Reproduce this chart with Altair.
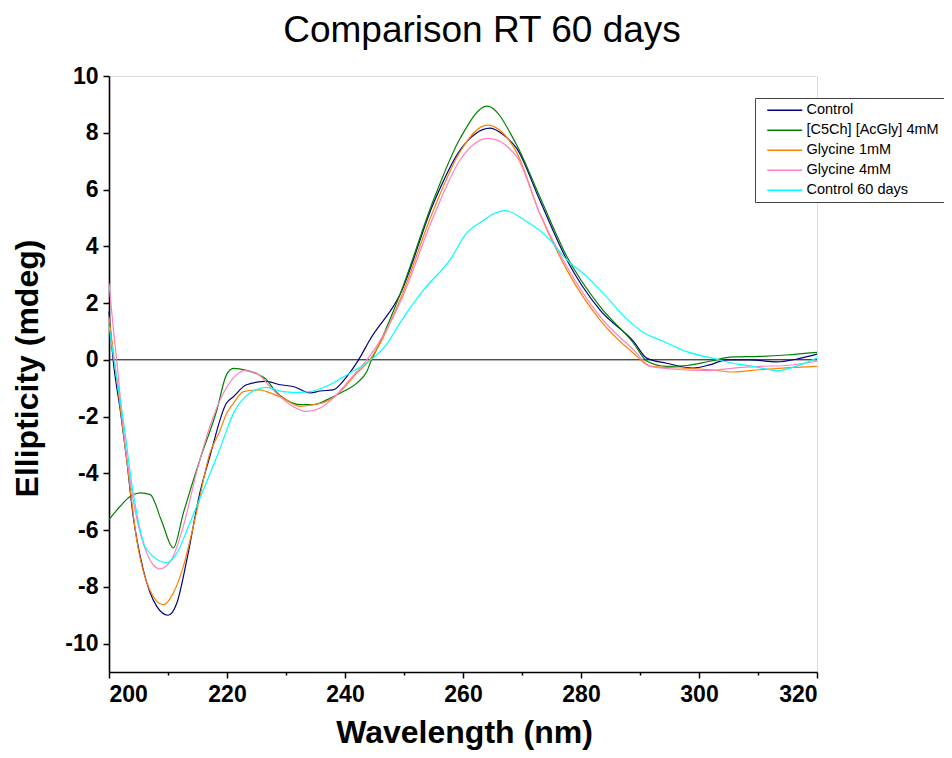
import altair as alt
import pandas as pd

series_names = ["Control", "[C5Ch] [AcGly] 4mM", "Glycine 1mM", "Glycine 4mM", "Control 60 days"]
series_colors = ["#000080", "#008000", "#FF8000", "#FF80C0", "#00FFFF"]

control_wl = [200, 200.7, 201.9, 203, 204.1, 205.8, 208.1, 210, 211.5, 213.2, 215.4, 217.1, 219.9, 221.1,
              223.3, 226.7, 229, 231.2, 234.1, 235.8, 238, 240.3, 242.3, 244.2, 249.3, 255, 259.5, 262,
              264.6, 267, 269.1, 273, 277.6, 283.2, 288.9, 291.2, 294.5, 299, 301.8, 304.7, 308.6, 313.2,
              317.1, 320]
control_val = [1.7, 0, -1.76, -3.52, -5.52, -7.39, -8.69, -9.0, -8.57, -7.04, -4.69, -3.4, -1.53, -1.3,
               -0.88, -0.76, -0.88, -0.94, -1.17, -1.1, -1.06, -0.59, 0, 0.7, 2.29, 5.52, 7.39, 7.95,
               8.16, 7.9, 7.45, 5.63, 3.52, 1.76, 0.65, 0.05, -0.12, -0.29, -0.18, 0.0, 0.0, -0.07,
               0.05, 0.2]

c5ch_wl = [200, 201.9, 203.6, 205.3, 207, 208.9, 210.9, 212.6, 215.4, 218.3, 219.9, 221.1, 223.3, 225.6,
           226.7, 228, 230.1, 232.4, 234.6, 236.9, 239.7, 242, 243.7, 244.5, 245.9, 249.3, 255, 259.5,
           264.1, 269.1, 273, 277.6, 283.2, 288.9, 291.2, 294.5, 297.9, 301.8, 305.8, 310.3, 314.8, 320]
c5ch_val = [-5.63, -5.16, -4.81, -4.69, -4.75, -5.67, -6.63, -5.4, -3.52, -1.76, -0.53, -0.3, -0.37, -0.55,
            -0.7, -1.06, -1.42, -1.58, -1.58, -1.41, -1.12, -0.82, -0.41, 0, 0.59, 2.29, 5.63, 7.8,
            8.94, 7.57, 5.75, 3.64, 1.88, 0.59, -0.05, -0.23, -0.2, -0.05, 0.1, 0.12, 0.17, 0.26]

gly1_wl = [200, 200.9, 203, 204.7, 206.9, 209.2, 210.9, 212.6, 214.8, 217.1, 218.8, 219.9, 221.1, 222.8,
           225.6, 226.7, 229.5, 232.4, 234.6, 236.9, 239.2, 242, 244.2, 246, 249.3, 255, 259.5, 264.1,
           269.1, 273, 277.6, 283.2, 288.9, 291.8, 297.4, 301.8, 305.8, 310.3, 314.2, 320]
gly1_val = [1.5, 0, -3.5, -6.34, -8.1, -8.63, -8.22, -7.28, -5.4, -3.29, -2.5, -1.9, -1.53, -1.12,
            -1.06, -1.12, -1.35, -1.64, -1.58, -1.47, -1.12, -0.47, 0, 0.6, 2.1, 5.28, 7.33, 8.27,
            7.3, 5.16, 3.17, 1.41, 0.23, -0.23, -0.29, -0.35, -0.43, -0.35, -0.29, -0.23]

gly4_wl = [200, 200.7, 201.3, 202.4, 204.1, 206.4, 208.6, 210.6, 212.6, 214.8, 217.1, 219.4, 221.6, 223,
           225, 227.8, 230.7, 233.5, 235.8, 238, 240.8, 243.7, 245.4, 249.3, 255, 259.5, 264.3, 269.1,
           273, 277.6, 283.2, 288.9, 291.8, 297.4, 301.8, 305.8, 310.3, 314.8, 320]
gly4_val = [2.7, 1.17, 0, -2.35, -4.93, -6.81, -7.37, -7.04, -5.87, -3.99, -2.35, -1.17, -0.53, -0.38,
            -0.47, -1.06, -1.58, -1.82, -1.7, -1.35, -0.7, 0, 0.49, 2.0, 5.05, 7.04, 7.8, 7.16,
            5.16, 3.29, 1.53, 0.35, -0.23, -0.35, -0.38, -0.29, -0.23, -0.2, -0.05]

ctrl60_wl = [200, 200.9, 202.4, 204.1, 206.4, 209.8, 211.5, 213.7, 216, 218.5, 221.3, 223.9, 226.7, 229.5,
             232.4, 234.6, 238, 240.8, 243.7, 247, 249.3, 253.3, 257.8, 260.6, 263, 267.1, 270.8, 274.2,
             277.6, 281, 284.4, 287.7, 291.1, 293.4, 297.9, 302.4, 305.8, 309.2, 313.2, 317.1, 320]
ctrl60_val = [1.2, -0.1, -2.1, -4.7, -6.69, -7.15, -6.81, -5.75, -4.58, -3.3, -1.8, -1.17, -0.97, -1.12,
              -1.15, -1.1, -0.82, -0.47, -0.1, 0.53, 1.29, 2.46, 3.52, 4.46, 4.85, 5.26, 4.87, 4.34,
              3.52, 2.93, 2.2, 1.45, 0.9, 0.7, 0.29, 0.05, -0.12, -0.23, -0.38, -0.18, 0.06]

x_ticks = list(range(200, 321, 10))
y_ticks = list(range(-10, 11, 1))

rows = []
for name, wl, val in [
    (series_names[0], control_wl, control_val),
    (series_names[1], c5ch_wl, c5ch_val),
    (series_names[2], gly1_wl, gly1_val),
    (series_names[3], gly4_wl, gly4_val),
    (series_names[4], ctrl60_wl, ctrl60_val),
]:
    for w, v in zip(wl, val):
        rows.append({"series": name, "wl": w, "val": v})
df = pd.DataFrame(rows)

FONT = "Liberation Sans"

x_scale = alt.Scale(domain=[200, 320], nice=False, zero=False)
y_scale = alt.Scale(domain=[-11, 10], nice=False, zero=False)

x_axis = alt.Axis(
    title="Wavelength (nm)", values=x_ticks,
    labelExpr="datum.value % 20 === 0 ? '' + datum.value : ''",
    tickSize={"condition": {"test": "datum.value % 20 === 0", "value": 6}, "value": 3},
    grid=False, domainColor="black", domainWidth=1.6, tickColor="black", tickWidth=1.5,
    labelFont=FONT, labelFontSize=23, labelFontWeight="bold", labelColor="black", labelPadding=5,
    titleFont=FONT, titleFontSize=32, titleFontWeight="bold", titleColor="black",
    titleBaseline="alphabetic", titleY=70, titleX=355,
)
y_axis = alt.Axis(
    title="Ellipticity (mdeg)", values=y_ticks,
    labelExpr="datum.value % 2 === 0 ? '' + datum.value : ''",
    tickSize={"condition": {"test": "datum.value % 2 === 0", "value": 6}, "value": 3},
    grid=False, domainColor="black", domainWidth=1.6, tickColor="black", tickWidth=1.5,
    labelFont=FONT, labelFontSize=23, labelFontWeight="bold", labelColor="black", labelPadding=5,
    titleFont=FONT, titleFontSize=32, titleFontWeight="bold", titleColor="black",
    titleBaseline="alphabetic", titleX=-72, titleY=292, titleAngle=270,
)

lines = alt.Chart(df).mark_line(strokeWidth=1.2, interpolate="monotone").encode(
    x=alt.X("wl:Q", scale=x_scale, axis=x_axis),
    y=alt.Y("val:Q", scale=y_scale, axis=y_axis),
    color=alt.Color(
        "series:N",
        scale=alt.Scale(domain=series_names, range=series_colors),
        legend=alt.Legend(
            title=None, orient="none", legendX=646, legendY=22,
            symbolType="M0,0H10", symbolSize=49, symbolStrokeWidth=1.5,
            labelFont=FONT, labelFontSize=14.5, labelColor="black", labelOffset=32,
            rowPadding=5, padding=5, strokeColor="#444444", fillColor="white",
        ),
    ),
    detail="series:N",
    order=alt.Order("wl:Q"),
)

zero_df = pd.DataFrame({"y": [0]})
zero_line = alt.Chart(zero_df).mark_rule(color="black", strokeWidth=1).encode(
    y=alt.Y("y:Q", scale=y_scale)
)

chart = alt.layer(zero_line, lines).properties(
    width=708, height=596,
    title=alt.TitleParams(
        "Comparison RT 60 days", font=FONT, fontSize=37, fontWeight="normal", color="black",
        anchor="middle", dx=19, offset=15,
    ),
    autosize=alt.AutoSizeParams(type="none"),
    padding={"left": 101, "top": 68, "right": 127, "bottom": 78},
).configure_view(stroke=None).configure(background="white")

chart.save("out.html", embed_options={"renderer": "svg", "actions": False})
